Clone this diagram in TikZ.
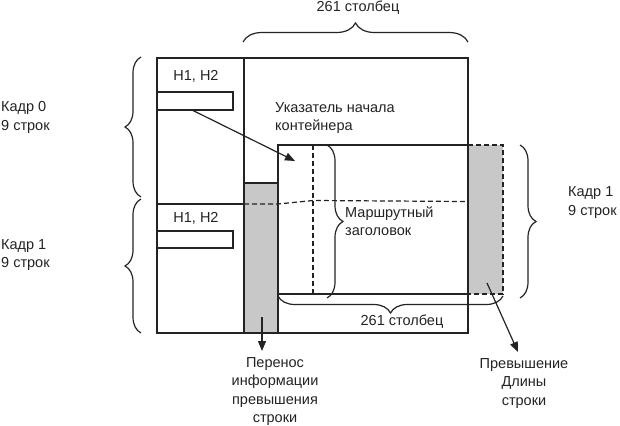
\documentclass[tikz,border=0pt]{standalone}
\usepackage{fontspec}
\setmainfont{Liberation Sans}
\usetikzlibrary{decorations.pathreplacing,arrows.meta}
\definecolor{fillgray}{RGB}{200,200,200}
\definecolor{ink}{RGB}{35,35,35}
\begin{document}
\begin{tikzpicture}[x=1pt,y=-1pt,
  line/.style={draw=ink,line width=1.2pt},
  dline/.style={draw=ink,line width=1.2pt,dash pattern=on 5pt off 3pt},
  brc/.style={draw=ink,line width=1.2pt,decorate,decoration={brace,amplitude=#1}},
  brc/.default=16,
  lbl/.style={font=\fontsize{14.5}{18.5}\selectfont,text=ink,inner sep=0pt},
  arr/.style={draw=ink,line width=1.2pt,-{Triangle[length=10pt,width=8pt]}}
]
\useasboundingbox (0,0) rectangle (620,425);

% gray areas
\filldraw[fill=fillgray,line] (244,183) rectangle (278,333);
\fill[fillgray] (468,145) rectangle (503,294);
\draw[dline] (468,145) -- (503,145) -- (503,294) -- (468,294);

% main frame
\draw[line] (157,58) rectangle (468,333);
\draw[line] (244,58) -- (244,333);
\draw[line] (157,204) -- (244,204);
\draw[line] (157,92) rectangle (233,110);
\draw[line] (157,231) rectangle (233,248);

% container
\draw[line] (468,145) -- (278,145) -- (278,294) -- (468,294);
\draw[dline] (313,145) -- (313,294);
\draw[dline] (244,204) -- (278,204) -- (313,200.5) -- (468,201.5);

% braces
\draw[brc=19] (243,42) -- (468,42);
\draw[brc] (141,197) -- (141,57);
\draw[brc] (141,333) -- (141,199);
\draw[brc] (520,145) -- (520,298);
\draw[brc] (327,145) -- (327,298);
\draw[brc=17] (503,296) -- (278,296);

% labels
\node[lbl] (top) at (358,8) {261 столбец};
\node[lbl] (h0) at (196,76) {H1, H2};
\node[lbl] (h1) at (196,218) {H1, H2};
\node[lbl,align=left,anchor=west] (k0) at (1,117.5) {Кадр 0\\9 строк};
\node[lbl,align=left,anchor=west] (k1) at (1,255) {Кадр 1\\9 строк};
\node[lbl,align=left,anchor=west] (ptr) at (275,118) {Указатель начала\\контейнера};
\node[lbl,align=left,anchor=west] (route) at (345,221) {Маршрутный\\заголовок};
\node[lbl,align=left,anchor=west] (k1r) at (568,202.5) {Кадр 1\\9 строк};
\node[lbl] (bot) at (402,322) {261 столбец};
\node[lbl,align=center,anchor=north] (carry) at (275,357) {Перенос\\информации\\превышения\\строки};
\node[lbl,align=center,anchor=north] (over) at (524,358) {Превышение\\Длины\\строки};

% arrows
\coordinate (a0s) at (192,110);
\coordinate (a0e) at (295,161);
\coordinate (a1s) at (262,317);
\coordinate (a1e) at (262,351);
\coordinate (a2s) at (487,283);
\coordinate (a2e) at (518,352);
\draw[arr] (a0s) -- (a0e);
\draw[arr] (a1s) -- (a1e);
\draw[arr] (a2s) -- (a2e);
\end{tikzpicture}
\end{document}
